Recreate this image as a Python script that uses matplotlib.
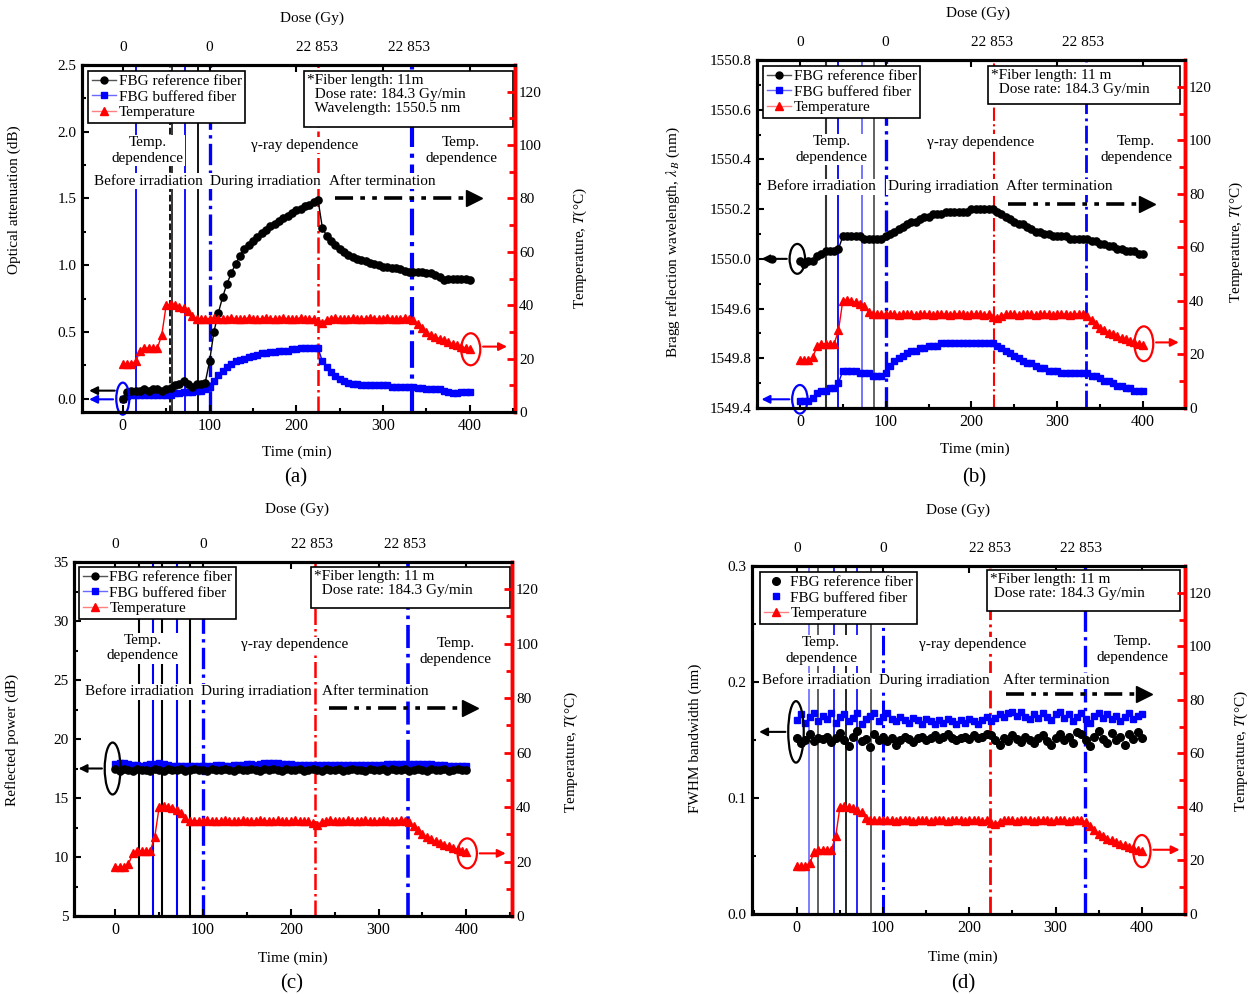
import numpy as np
import matplotlib
matplotlib.use('Agg')
import matplotlib.pyplot as plt
from matplotlib.patches import Ellipse, Rectangle
from matplotlib.lines import Line2D
from matplotlib.ticker import MultipleLocator

plt.rcParams['font.family'] = ['Liberation Serif', 'DejaVu Serif']
plt.rcParams['mathtext.fontset'] = 'stix'
plt.rcParams['font.size'] = 10.5

# sampling grid (min), one reading every 5 min
time_min = np.arange(0, 401, 5)

# temperature (°C), same run for all four panels
temp_c = [18, 18, 18, 19, 23, 24, 24, 24, 24, 29,
          40, 40.5, 40, 39.5, 39, 38, 36, 35, 35, 35,
          35, 35.2, 35, 34.8, 35, 35.2, 35, 34.8, 35, 35.2,
          35, 34.8, 35, 35.2, 35, 34.8, 35, 35.2, 35, 34.8,
          35, 35.2, 35, 34.8, 35, 34, 33.5, 34.5, 35, 35.2,
          35, 34.8, 35, 35.2, 35, 34.8, 35, 35.2, 35, 34.8,
          35, 35.2, 35, 34.8, 35, 35.2, 35, 34.5, 33, 31.5,
          30, 29, 28.2, 27.5, 26.8, 26.2, 25.6, 25, 24.5, 24,
          23.5]

# (a) optical attenuation (dB)
att_ref = [0.00, 0.05, 0.06, 0.06, 0.06, 0.07, 0.06, 0.07, 0.07, 0.06,
           0.07, 0.08, 0.10, 0.11, 0.13, 0.11, 0.09, 0.11, 0.11, 0.12,
           0.28, 0.50, 0.64, 0.76, 0.86, 0.94, 1.01, 1.07, 1.12, 1.15,
           1.18, 1.21, 1.24, 1.26, 1.29, 1.31, 1.33, 1.35, 1.37, 1.39,
           1.41, 1.42, 1.44, 1.45, 1.47, 1.49, 1.28, 1.22, 1.18, 1.15,
           1.12, 1.10, 1.08, 1.06, 1.05, 1.04, 1.03, 1.02, 1.01, 1.00,
           0.99, 0.99, 0.98, 0.98, 0.97, 0.96, 0.95, 0.95, 0.95, 0.95,
           0.94, 0.94, 0.93, 0.91, 0.89, 0.90, 0.90, 0.90, 0.90, 0.90,
           0.89]
att_buf = [0.00, 0.02, 0.03, 0.03, 0.03, 0.03, 0.03, 0.03, 0.03, 0.03,
           0.03, 0.03, 0.04, 0.04, 0.05, 0.05, 0.05, 0.06, 0.06, 0.07,
           0.09, 0.13, 0.18, 0.21, 0.24, 0.26, 0.28, 0.29, 0.30, 0.31,
           0.32, 0.33, 0.34, 0.34, 0.35, 0.35, 0.36, 0.36, 0.36, 0.37,
           0.37, 0.38, 0.38, 0.38, 0.38, 0.38, 0.28, 0.24, 0.20, 0.17,
           0.15, 0.13, 0.12, 0.11, 0.11, 0.10, 0.10, 0.10, 0.10, 0.10,
           0.10, 0.10, 0.09, 0.09, 0.09, 0.09, 0.09, 0.09, 0.08, 0.08,
           0.07, 0.07, 0.07, 0.07, 0.06, 0.05, 0.04, 0.04, 0.05, 0.05,
           0.05]

# (b) Bragg wavelength (nm)
wl_ref = [1549.99, 1549.98, 1549.99, 1549.99, 1550.01, 1550.02, 1550.03, 1550.03, 1550.03, 1550.04,
          1550.09, 1550.09, 1550.09, 1550.09, 1550.09, 1550.08, 1550.08, 1550.08, 1550.08, 1550.08,
          1550.09, 1550.10, 1550.11, 1550.12, 1550.13, 1550.14, 1550.15, 1550.15, 1550.16, 1550.17,
          1550.17, 1550.18, 1550.18, 1550.18, 1550.19, 1550.19, 1550.19, 1550.19, 1550.19, 1550.19,
          1550.20, 1550.20, 1550.20, 1550.20, 1550.20, 1550.20, 1550.19, 1550.18, 1550.17, 1550.16,
          1550.15, 1550.14, 1550.14, 1550.13, 1550.12, 1550.11, 1550.11, 1550.10, 1550.10, 1550.09,
          1550.09, 1550.09, 1550.09, 1550.08, 1550.08, 1550.08, 1550.08, 1550.08, 1550.07, 1550.07,
          1550.06, 1550.06, 1550.05, 1550.05, 1550.04, 1550.04, 1550.03, 1550.03, 1550.03, 1550.02,
          1550.02]
wl_buf = [1549.43, 1549.43, 1549.43, 1549.44, 1549.46, 1549.47, 1549.47, 1549.48, 1549.48, 1549.50,
          1549.55, 1549.55, 1549.55, 1549.55, 1549.54, 1549.54, 1549.54, 1549.53, 1549.53, 1549.53,
          1549.54, 1549.57, 1549.59, 1549.60, 1549.61, 1549.62, 1549.63, 1549.63, 1549.64, 1549.64,
          1549.65, 1549.65, 1549.65, 1549.66, 1549.66, 1549.66, 1549.66, 1549.66, 1549.66, 1549.66,
          1549.66, 1549.66, 1549.66, 1549.66, 1549.66, 1549.66, 1549.65, 1549.64, 1549.63, 1549.62,
          1549.61, 1549.60, 1549.59, 1549.58, 1549.58, 1549.57, 1549.56, 1549.56, 1549.55, 1549.55,
          1549.55, 1549.54, 1549.54, 1549.54, 1549.54, 1549.54, 1549.54, 1549.54, 1549.53, 1549.53,
          1549.52, 1549.51, 1549.51, 1549.50, 1549.49, 1549.49, 1549.48, 1549.48, 1549.47, 1549.47,
          1549.47]
# the source figure has 1549.6 / 1549.8 labels swapped, kept as printed
wl_ticklabels = ['1549.4', '1549.8', '1549.6', '1550.0', '1550.2', '1550.4', '1550.6', '1550.8']

# (c) reflected power (dB)
pw_ref = [17.5, 17.3, 17.5, 17.4, 17.3, 17.5, 17.4, 17.4, 17.3, 17.5,
          17.4, 17.3, 17.5, 17.4, 17.4, 17.5, 17.3, 17.4, 17.5, 17.4,
          17.4, 17.3, 17.5, 17.4, 17.4, 17.5, 17.4, 17.3, 17.5, 17.4,
          17.4, 17.5, 17.4, 17.3, 17.5, 17.4, 17.5, 17.4, 17.3, 17.5,
          17.4, 17.4, 17.5, 17.3, 17.4, 17.5, 17.4, 17.3, 17.5, 17.4,
          17.4, 17.5, 17.3, 17.4, 17.5, 17.4, 17.4, 17.3, 17.5, 17.4,
          17.4, 17.5, 17.3, 17.5, 17.4, 17.4, 17.5, 17.3, 17.4, 17.5,
          17.4, 17.3, 17.5, 17.4, 17.4, 17.5, 17.3, 17.4, 17.5, 17.4,
          17.4]
pw_buf = [17.9, 18.0, 18.0, 17.9, 17.8, 17.8, 17.7, 17.8, 17.9, 17.9,
          18.0, 17.9, 17.8, 17.7, 17.7, 17.7, 17.7, 17.7, 17.7, 17.7,
          17.7, 17.7, 17.7, 17.8, 17.8, 17.7, 17.7, 17.8, 17.8, 17.8,
          17.9, 17.9, 17.8, 17.9, 18.0, 18.0, 18.0, 18.0, 17.9, 17.9,
          17.9, 17.8, 17.8, 17.8, 17.8, 17.8, 17.8, 17.8, 17.8, 17.8,
          17.8, 17.8, 17.8, 17.8, 17.8, 17.8, 17.8, 17.8, 17.8, 17.8,
          17.8, 17.8, 17.9, 17.9, 17.9, 17.9, 17.9, 17.9, 17.9, 17.9,
          17.9, 17.9, 17.9, 17.8, 17.8, 17.8, 17.7, 17.7, 17.7, 17.7,
          17.7]

# (d) FWHM bandwidth (nm)
fw_ref = [0.152, 0.147, 0.150, 0.155, 0.149, 0.152, 0.151, 0.153, 0.148, 0.152,
          0.156, 0.150, 0.145, 0.153, 0.158, 0.149, 0.151, 0.144, 0.155, 0.150,
          0.153, 0.149, 0.152, 0.146, 0.150, 0.153, 0.151, 0.148, 0.152, 0.153,
          0.150, 0.152, 0.154, 0.151, 0.153, 0.155, 0.152, 0.150, 0.152, 0.153,
          0.151, 0.154, 0.152, 0.153, 0.155, 0.154, 0.150, 0.146, 0.152, 0.149,
          0.154, 0.151, 0.148, 0.153, 0.150, 0.147, 0.152, 0.154, 0.149, 0.146,
          0.152, 0.155, 0.150, 0.153, 0.147, 0.157, 0.155, 0.150, 0.145, 0.153,
          0.158, 0.151, 0.147, 0.156, 0.150, 0.153, 0.146, 0.155, 0.151, 0.157,
          0.152]
fw_buf = [0.167, 0.172, 0.165, 0.170, 0.173, 0.166, 0.171, 0.168, 0.173, 0.165,
          0.170, 0.172, 0.166, 0.169, 0.173, 0.164, 0.168, 0.171, 0.173, 0.166,
          0.170, 0.173, 0.168, 0.166, 0.170, 0.167, 0.165, 0.169, 0.167, 0.164,
          0.168, 0.166, 0.164, 0.167, 0.165, 0.168, 0.166, 0.164, 0.167, 0.165,
          0.168, 0.166, 0.164, 0.167, 0.170, 0.166, 0.169, 0.172, 0.170, 0.173,
          0.174, 0.171, 0.174, 0.170, 0.168, 0.172, 0.169, 0.173, 0.170, 0.167,
          0.172, 0.174, 0.169, 0.172, 0.166, 0.170, 0.173, 0.168, 0.165, 0.171,
          0.173, 0.169, 0.172, 0.168, 0.171, 0.166, 0.170, 0.173, 0.168, 0.171,
          0.172]

dose_pos = [0, 100, 224, 330]
dose_lbl = ['0', '0', '22 853', '22 853']

BLUE = '#0000ff'
LBLUE = '#6a6aff'
RED = '#ff0000'

fig = plt.figure(figsize=(12.48, 9.94), dpi=100)


def panel(p):
    ax = fig.add_axes(p['rect'])
    ax2 = ax.twinx()
    axt = ax.twiny()

    ax.set_xlim(p['xlim'])
    axt.set_xlim(p['xlim'])
    ax.set_ylim(p['ylim'])
    ax2.set_ylim(0, 130)

    # vertical marker lines
    for t, c, ls, lw in p['vlines']:
        ax.axvline(t, color=c, ls=ls, lw=lw, zorder=1)

    # fibre data
    if p['scatter']:
        ax.plot(time_min, p['buf'], 's', color=BLUE, ms=5, zorder=3)
        ax.plot(time_min, p['ref'], 'o', color='black', ms=5.5, zorder=3)
    else:
        ax.plot(time_min, p['buf'], '-s', color=BLUE, ms=4.8, lw=1, zorder=3)
        ax.plot(time_min, p['ref'], '-o', color='black', ms=5.2, lw=1, zorder=3)
    ax2.plot(time_min, temp_c, '-^', color=RED, ms=5.8, lw=1, zorder=3)

    # region texts
    for x, y, s in p['texts']:
        ax.text(x, y, s, ha='center', va='center', fontsize=11, linespacing=1.25,
                bbox=dict(facecolor='white', edgecolor='none', pad=1), zorder=5)

    # "after termination" arrow
    x0, x1, y = p['after']
    ax.plot([x0, x1], [y, y], color='black', lw=2.6, dashes=[5, 2, 1.3, 2, 1.3, 2], zorder=4)
    ax.plot([x1 + 3], [y], marker='>', ms=11, color='black', zorder=4)

    # circles and arrows pointing to the axes
    for (cx, cy, w, h, c) in p['ellipses']:
        ax.add_patch(Ellipse((cx, cy), w, h, fill=False, ec=c, lw=1.6, zorder=6, clip_on=False))
    for (xs, xe, y, c) in p['arrows']:
        ax.annotate('', xy=(xe, y), xytext=(xs, y), annotation_clip=False, zorder=6,
                    arrowprops=dict(arrowstyle='-|>', color=c, lw=1.5, mutation_scale=12))
    for (x, y) in p.get('dots', []):
        ax.plot([x], [y], 'o', color='black', ms=5, zorder=6, clip_on=False)
    cx, cy, w, h = p['red_ell']
    ax2.add_patch(Ellipse((cx, cy), w, h, fill=False, ec=RED, lw=1.6, zorder=6))
    xs, xe, y = p['red_arrow']
    ax2.annotate('', xy=(xe, y), xytext=(xs, y), annotation_clip=False,
                 arrowprops=dict(arrowstyle='-|>', color=RED, lw=1.5, mutation_scale=12))

    # info box
    bx0, bx1, by0, by1 = p['info_rect']
    ax.add_patch(Rectangle((bx0, by0), bx1 - bx0, by1 - by0, transform=ax.transAxes,
                           fc='white', ec='black', lw=1.2, zorder=7))
    ax.text(bx0 + 0.006, by1 - 0.01, p['info'], transform=ax.transAxes, ha='left', va='top',
            fontsize=11, linespacing=1.1, zorder=8)

    # legend
    if p['scatter']:
        h_ref = Line2D([], [], ls='none', marker='o', color='black', ms=5.5)
        h_buf = Line2D([], [], ls='none', marker='s', color=BLUE, ms=5)
    else:
        h_ref = Line2D([], [], color='#555555', lw=1, marker='o', mfc='black', mec='black', ms=5)
        h_buf = Line2D([], [], color=LBLUE, lw=1, marker='s', mfc=BLUE, mec=BLUE, ms=5)
    h_tmp = Line2D([], [], color='#ff8080', lw=1, marker='^', mfc=RED, mec=RED, ms=6)
    leg = ax2.legend([h_ref, h_buf, h_tmp],
                     ['FBG reference fiber', 'FBG buffered fiber', 'Temperature'],
                     loc='upper left', bbox_to_anchor=p['leg_xy'], fancybox=False,
                     edgecolor='black', framealpha=1, fontsize=11, handlelength=1.6,
                     handletextpad=0.15, borderpad=0.25, labelspacing=0.1, borderaxespad=0)
    leg.get_frame().set_linewidth(1.2)
    leg.set_zorder(10)

    # ticks and spines
    ax.xaxis.set_major_locator(MultipleLocator(100))
    ax.xaxis.set_minor_locator(MultipleLocator(50))
    ax.set_yticks(p['yticks'])
    if p.get('yticklabels'):
        ax.set_yticklabels(p['yticklabels'])
    ax.yaxis.set_minor_locator(MultipleLocator(p['yminor']))
    ax.tick_params(axis='both', which='both', direction='in', width=1.5, colors='black')
    ax.tick_params(axis='both', which='major', length=5)
    ax.tick_params(axis='both', which='minor', length=3)
    ax.tick_params(axis='x', top=True, labeltop=False, pad=4, labelsize=11.5)
    ax.tick_params(axis='y', pad=4, labelsize=11)
    ax2.yaxis.set_major_locator(MultipleLocator(20))
    ax2.yaxis.set_minor_locator(MultipleLocator(10))
    ax2.tick_params(axis='y', which='both', direction='in', color=RED, labelcolor='black',
                    width=2, pad=3, labelsize=11)
    ax2.tick_params(axis='y', which='major', length=6)
    ax2.tick_params(axis='y', which='minor', length=4)
    axt.set_xticks(dose_pos)
    axt.set_xticklabels(dose_lbl)
    axt.tick_params(axis='x', length=0, pad=8, labelsize=11)

    for a in (ax, ax2, axt):
        for side in ('left', 'bottom', 'top'):
            a.spines[side].set_linewidth(2.2)
            a.spines[side].set_color('black')
        a.spines['right'].set_linewidth(2.4)
        a.spines['right'].set_color(RED)

    # axis labels
    ax.set_xlabel('Time (min)', fontsize=11)
    ax.xaxis.set_label_coords(*p['xl_xy'])
    axt.set_xlabel('Dose (Gy)', fontsize=11)
    axt.xaxis.set_label_coords(*p['dl_xy'])
    ax.set_ylabel(p['ylabel'], fontsize=11)
    ax.yaxis.set_label_coords(*p['yl_xy'])
    ax2.set_ylabel('Temperature, $T$(\u00b0C)', fontsize=11)
    ax2.yaxis.set_label_coords(*p['rl_xy'])

    fig.text(p['sub'][0] / 1248, 1 - p['sub'][1] / 994, p['sub'][2],
             ha='center', va='center', fontsize=15)


info2 = '*Fiber length: 11 m\n  Dose rate: 184.3 Gy/min'

panels = [
    dict(rect=[82 / 1248, 1 - 412 / 994, 433 / 1248, 347 / 994], xlim=(-47, 452),
         ylim=(-0.1, 2.5), yticks=[0, 0.5, 1.0, 1.5, 2.0, 2.5], yminor=0.25,
         ref=att_ref, buf=att_buf, scatter=False,
         vlines=[(15, BLUE, '-', 1.3), (54, 'black', '--', 1.3), (57, 'black', '-', 1.1),
                 (72, BLUE, '-', 1.3), (87, 'black', '-', 1.3), (100, BLUE, '-.', 2.4),
                 (225, RED, '-.', 1.8), (333, BLUE, '-.', 3.0)],
         texts=[(29, 1.86, 'Temp.\ndependence'), (209, 1.90, '\u03b3-ray dependence'),
                (390, 1.86, 'Temp.\ndependence'), (29, 1.63, 'Before irradiation'),
                (164, 1.63, 'During irradiation'), (299, 1.63, 'After termination')],
         after=(244, 402, 1.5),
         ellipses=[(0, 0.0, 15, 0.24, BLUE)],
         arrows=[(-8, -42, -0.005, BLUE), (-6, -42, 0.06, 'black')],
         red_ell=(401, 23.5, 22, 12), red_arrow=(412, 446, 24.5),
         info_rect=(0.513, 0.995, 0.821, 0.983),
         info='*Fiber length: 11m\n  Dose rate: 184.3 Gy/min\n  Wavelength: 1550.5 nm',
         leg_xy=(0.014, 0.983),
         ylabel='Optical attenuation (dB)', yl_xy=(-0.14, 0.611), rl_xy=(1.132, 0.473),
         xl_xy=(0.497, -0.098), dl_xy=(0.531, 1.124), sub=(296, 478, '(a)')),
    dict(rect=[757 / 1248, 1 - 408 / 994, 428 / 1248, 348 / 994], xlim=(-50, 449),
         ylim=(1549.4, 1550.8), yticks=[1549.4, 1549.6, 1549.8, 1550.0, 1550.2, 1550.4, 1550.6, 1550.8],
         yticklabels=wl_ticklabels, yminor=0.1,
         ref=wl_ref, buf=wl_buf, scatter=False,
         vlines=[(30, '#333333', '-', 1.5), (45, BLUE, '-', 1.3), (72, LBLUE, '-', 1.3),
                 (86, '#555555', '-', 1.3), (100, BLUE, '-.', 2.4),
                 (226, RED, '-.', 1.5), (333, BLUE, '-.', 2.0)],
         texts=[(37, 1550.44, 'Temp.\ndependence'), (211, 1550.47, '\u03b3-ray dependence'),
                (392, 1550.44, 'Temp.\ndependence'), (25, 1550.29, 'Before irradiation'),
                (167, 1550.29, 'During irradiation'), (303, 1550.29, 'After termination')],
         after=(243, 402, 1550.22),
         ellipses=[(-3, 1550.0, 18, 0.12, 'black'), (0, 1549.435, 18, 0.115, BLUE)],
         arrows=[(-12, -48, 1550.0, 'black'), (-9, -48, 1549.435, BLUE)],
         dots=[(-33, 1550.0)],
         red_ell=(401, 24, 22, 13), red_arrow=(412, 445, 24.5),
         info_rect=(0.540, 0.988, 0.874, 0.983), info=info2,
         leg_xy=(0.014, 0.983),
         ylabel='Bragg reflection wavelength, $\\lambda_{\\,B}$ (nm)', yl_xy=(-0.175, 0.477),
         rl_xy=(1.100, 0.477), xl_xy=(0.51, -0.10), dl_xy=(0.516, 1.124), sub=(974, 478, '(b)')),
    dict(rect=[74 / 1248, 1 - 916 / 994, 438 / 1248, 354 / 994], xlim=(-47, 452),
         ylim=(5, 35), yticks=[5, 10, 15, 20, 25, 30, 35], yminor=2.5,
         ref=pw_ref, buf=pw_buf, scatter=False,
         vlines=[(27, 'black', '-', 1.5), (43, BLUE, '-', 1.5), (53, 'black', '-', 1.5),
                 (70, BLUE, '-', 1.5), (85, 'black', '-', 1.5), (100, BLUE, '-.', 2.4),
                 (227, RED, '-.', 1.8), (334, BLUE, '-.', 2.6)],
         texts=[(31, 27.7, 'Temp.\ndependence'), (204, 28.0, '\u03b3-ray dependence'),
                (388, 27.4, 'Temp.\ndependence'), (28, 24.0, 'Before irradiation'),
                (161, 24.0, 'During irradiation'), (296, 24.0, 'After termination')],
         after=(244, 401, 22.6),
         ellipses=[(-3, 17.5, 18, 4.4, 'black')],
         arrows=[(-12, -45, 17.5, 'black')],
         red_ell=(401, 23, 22, 11), red_arrow=(412, 448, 23),
         info_rect=(0.541, 0.995, 0.870, 0.986), info=info2,
         leg_xy=(0.011, 0.986),
         ylabel='Reflected power (dB)', yl_xy=(-0.125, 0.497), rl_xy=(1.116, 0.463),
         xl_xy=(0.50, -0.099), dl_xy=(0.509, 1.138), sub=(292, 984, '(c)')),
    dict(rect=[752 / 1248, 1 - 914 / 994, 433 / 1248, 348 / 994], xlim=(-52, 450),
         ylim=(0, 0.3), yticks=[0.0, 0.1, 0.2, 0.3], yticklabels=['0.0', '0.1', '0.2', '0.3'],
         yminor=0.05,
         ref=fw_ref, buf=fw_buf, scatter=True,
         vlines=[(14, LBLUE, '-', 1.2), (25, '#444444', '-', 1.2), (43, BLUE, '-', 1.2),
                 (57, 'black', '-', 1.2), (70, BLUE, '-', 1.2), (86, '#444444', '-', 1.2),
                 (100, BLUE, '-.', 2.2), (224, RED, '-.', 2.0), (334, BLUE, '-.', 2.4)],
         texts=[(28, 0.227, 'Temp.\ndependence'), (204, 0.232, '\u03b3-ray dependence'),
                (389, 0.228, 'Temp.\ndependence'), (23, 0.201, 'Before irradiation'),
                (160, 0.201, 'During irradiation'), (301, 0.201, 'After termination')],
         after=(242, 400, 0.19),
         ellipses=[(-1, 0.157, 18, 0.053, 'black')],
         arrows=[(-10, -47, 0.157, 'black')],
         red_ell=(400, 23.5, 20, 12), red_arrow=(410, 447, 24),
         info_rect=(0.543, 0.988, 0.871, 0.989),
         info='*Fiber length: 11 m\n Dose rate: 184.3 Gy/min',
         leg_xy=(0.018, 0.983),
         ylabel='FWHM bandwidth (nm)', yl_xy=(-0.115, 0.506), rl_xy=(1.11, 0.468),
         xl_xy=(0.487, -0.106), dl_xy=(0.476, 1.149), sub=(963, 984, '(d)')),
]

for p in panels:
    panel(p)

fig.savefig('out.png', dpi=100)
